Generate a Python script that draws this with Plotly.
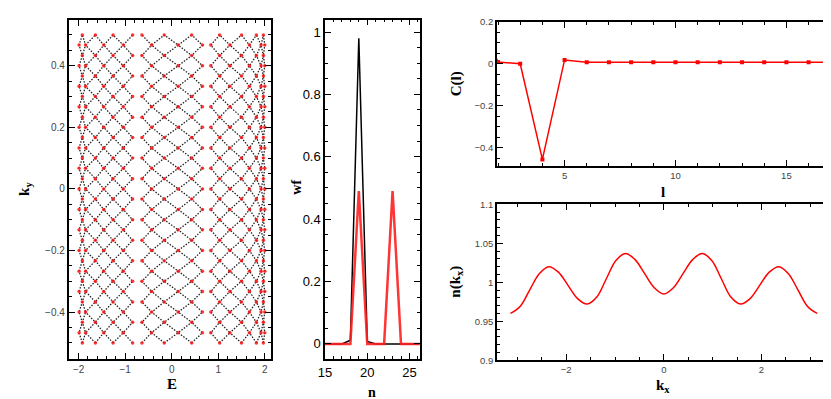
import plotly.graph_objects as go

W, H = 831, 399

# ---- panel 1: E vs k_y band lattice (crossing columns)
KY_ROWS = [-0.5, -0.467, -0.433, -0.4, -0.367, -0.333, -0.3, -0.267, -0.233, -0.2,
           -0.167, -0.133, -0.1, -0.067, -0.033, 0.0, 0.033, 0.067, 0.1, 0.133,
           0.167, 0.2, 0.233, 0.267, 0.3, 0.333, 0.367, 0.4, 0.433, 0.467, 0.5]
# crossing columns on even rows (A) and odd rows (B), per band
LEFT_A = [-1.92, -1.64, -1.26, -0.84]
LEFT_B = [-1.99, -1.85, -1.46, -1.04]
MID_A = [-0.64, -0.16, 0.43]
MID_B = [-0.43, 0.14, 0.66]
RIGHT_A = [1.03, 1.50, 1.82, 1.97]
RIGHT_B = [0.84, 1.25, 1.67, 1.92, 2.0]

# ---- panel 2: wf vs n
N_SITE = [14, 15, 16, 17, 18, 19, 20, 21, 22, 23, 24, 25, 26, 27, 28]
WF_BLACK = [0, 0, 0, 0, 0.012, 0.98, 0.008, 0, 0, 0, 0, 0, 0, 0, 0]
WF_RED = [0, 0, 0, 0, 0, 0.49, 0, 0, 0, 0.49, 0, 0, 0, 0, 0]

# ---- panel 3: C(l)
L_VAL = [1, 2, 3, 4, 5, 6, 7, 8, 9, 10, 11, 12, 13, 14, 15, 16, 17]
C_VAL = [0.25, 0.008, 0.0, -0.456, 0.018, 0.0075, 0.0075, 0.0075, 0.0075, 0.0075,
         0.0075, 0.0075, 0.0075, 0.0075, 0.0075, 0.0075, 0.0075]

# ---- panel 4: n(k_x)
KX = [-3.142, -2.945, -2.749, -2.553, -2.356, -2.160, -1.963, -1.767, -1.571,
      -1.374, -1.178, -0.982, -0.785, -0.589, -0.393, -0.196, 0.0,
      0.196, 0.393, 0.589, 0.785, 0.982, 1.178, 1.374, 1.571,
      1.767, 1.963, 2.160, 2.356, 2.553, 2.749, 2.945, 3.142]
NK = [0.960, 0.969, 0.990, 1.011, 1.020, 1.013, 0.996, 0.979, 0.972,
      0.981, 1.0045, 1.028, 1.037, 1.029, 1.011, 0.993, 0.985,
      0.993, 1.011, 1.029, 1.037, 1.028, 1.0045, 0.981, 0.972,
      0.979, 0.996, 1.013, 1.020, 1.011, 0.990, 0.969, 0.960]


def zigzags(cols_a, cols_b):
    merged = sorted(cols_a + cols_b)
    xs, ys = [], []
    for p, q in zip(merged[:-1], merged[1:]):
        a, b = (p, q) if p in cols_a else (q, p)
        for j, ky in enumerate(KY_ROWS):
            xs.append(a if j % 2 == 0 else b)
            ys.append(ky)
        xs.append(None)
        ys.append(None)
    return xs, ys


def vertices(cols_a, cols_b):
    xs, ys = [], []
    for j, ky in enumerate(KY_ROWS):
        for c in (cols_a if j % 2 == 0 else cols_b):
            xs.append(c)
            ys.append(ky)
    return xs, ys


fig = go.Figure()

lx, ly, vx, vy = [], [], [], []
for A, B in [(LEFT_A, LEFT_B), (MID_A, MID_B), (RIGHT_A, RIGHT_B)]:
    x, y = zigzags(A, B)
    lx += x
    ly += y
    x, y = vertices(A, B)
    vx += x
    vy += y

fig.add_trace(go.Scatter(x=lx, y=ly, mode='lines', xaxis='x', yaxis='y',
                         line={'color': '#222222', 'width': 1.3, 'dash': '1.5px,1.5px'}))
fig.add_trace(go.Scatter(x=vx, y=vy, mode='markers', xaxis='x', yaxis='y',
                         marker={'color': 'rgba(255,20,20,0.85)', 'size': 3.5}))

fig.add_trace(go.Scatter(x=N_SITE, y=WF_BLACK, mode='lines', xaxis='x2', yaxis='y2',
                         line={'color': 'black', 'width': 1.5}))
fig.add_trace(go.Scatter(x=N_SITE, y=WF_RED, mode='lines', xaxis='x2', yaxis='y2',
                         line={'color': 'rgba(255,30,30,0.9)', 'width': 2.5}))

fig.add_trace(go.Scatter(x=L_VAL, y=C_VAL, mode='lines+markers', xaxis='x3', yaxis='y3',
                         line={'color': 'red', 'width': 1.5},
                         marker={'color': 'red', 'size': 4, 'symbol': 'square'}))

fig.add_trace(go.Scatter(x=KX, y=NK, mode='lines', xaxis='x4', yaxis='y4',
                         line={'color': 'red', 'width': 1.5, 'shape': 'spline'}))


def ax(domain, rng, dtick, minor, tick0=0, size=10, color='#444444', lw=1.5,
       tlen=6, anchor=None):
    return {'domain': domain, 'range': rng, 'dtick': dtick, 'tick0': tick0,
            'ticks': 'inside', 'ticklen': tlen, 'tickwidth': 1, 'tickcolor': 'black',
            'mirror': 'allticks', 'showline': True, 'linecolor': 'black',
            'linewidth': lw, 'showgrid': False, 'zeroline': False,
            'tickfont': {'family': 'Liberation Sans', 'size': size, 'color': color},
            'minor': {'ticks': 'inside', 'dtick': minor, 'ticklen': 3,
                      'tickwidth': 1, 'tickcolor': 'black', 'showgrid': False},
            'anchor': anchor, 'fixedrange': True}


px = lambda v: v / W
py = lambda v: 1 - v / H

fig.update_layout(
    width=W, height=H,
    margin={'l': 0, 'r': 0, 't': 0, 'b': 0},
    paper_bgcolor='white', plot_bgcolor='white',
    showlegend=False,
    xaxis=ax([px(54.3), px(258)], [-2.21, 2.13], 1, 0.2, lw=2, anchor='y'),
    yaxis=ax([py(355), py(5.7)], [-0.553, 0.55], 0.2, 0.05, lw=2, anchor='x'),
    xaxis2=ax([px(312.7), px(408)], [15, 26.2], 5, 1, size=13, color='black', anchor='y2'),
    yaxis2=ax([py(355), py(5.7)], [-0.049, 1.04], 0.2, 0.05, size=13, color='black', anchor='x2'),
    xaxis3=ax([px(486), px(822.7)], [1.95, 17], 5, 1, size=9.5, anchor='y3'),
    yaxis3=ax([py(156), py(8)], [-0.486, 0.2], 0.2, 0.05, size=9.5, anchor='x3'),
    xaxis4=ax([px(486), px(822.7)], [-3.42, 3.42], 2, 0.5, size=9.5, anchor='y4'),
    yaxis4=ax([py(356), py(195.7)], [0.9, 1.1], 0.05, 0.01, size=9.5, anchor='x4'),
)

serif = {'family': 'Liberation Serif', 'size': 15, 'color': 'black'}
titles = [
    ('<b>k<sub>y</sub></b>', 10, 180, -90, 15),
    ('<b>E</b>', 158, 381, 0, 15),
    ('<b>wf</b>', 283, 178, -90, 14),
    ('<b>n</b>', 360, 389, 0, 14),
    ('<b>C(l)</b>', 445, 72, -90, 15),
    ('<b>l</b>', 654, 183, 0, 15),
    ('<b>n(k<sub>x</sub>)</b>', 445, 275, -90, 15),
    ('<b>k<sub>x</sub></b>', 654, 383, 0, 15),
]
for text, x, y, ang, sz in titles:
    fig.add_annotation(text=text, x=px(x), y=py(y), xref='paper', yref='paper',
                       showarrow=False, textangle=ang, xanchor='center', yanchor='middle',
                       font={**serif, 'size': sz})

fig.write_html("out.html")
